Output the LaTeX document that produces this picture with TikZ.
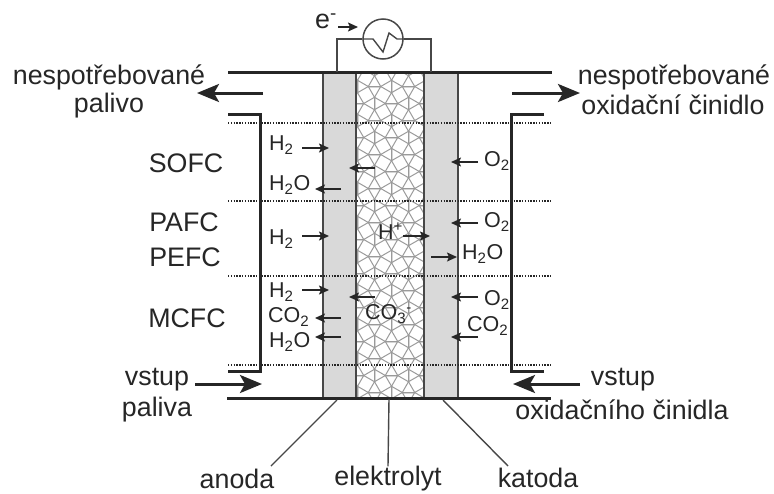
\documentclass[tikz,border=0pt]{standalone}
\usepackage{fontspec}
\setmainfont{Liberation Sans}
\usepackage{tikz}
\usetikzlibrary{calc,arrows.meta}
\definecolor{ink}{HTML}{262626}
\definecolor{layer}{HTML}{D9D9D9}
\definecolor{mesh}{HTML}{9A9A9A}
\tikzset{big/.style={inner sep=0pt,text=ink,font=\fontsize{26.8}{30}\selectfont},gas/.style={inner sep=0pt,anchor=west,text=ink,font=\fontsize{21.5}{24}\selectfont}}
\tikzset{wall/.style={line width=3pt,ink},layerbox/.style={fill=layer,draw=ink!85,line width=1.5pt},thin wire/.style={line width=1.4pt,ink!85}}
\tikzset{flow/.style={line width=3pt,ink,-{Stealth[length=22pt,width=18pt,inset=5pt]}},gasflow/.style={line width=1.5pt,ink,-{Stealth[length=10pt,width=9pt,inset=2pt]}}}
\tikzset{zone/.style={line width=1.2pt,ink,dash pattern=on 1.4pt off 1.4pt}}
\begin{document}
\begin{tikzpicture}[x=1pt,y=-1pt]
  \useasboundingbox (0,0) rectangle (774,493);
  % electrolyte
  \begin{scope}
    \clip (356,72) rectangle (424,398);
    \foreach \i in {-1,...,4} \foreach \j in {-1,...,20} {
      \pgfmathsetmacro{\base}{ifthenelse(mod(\i+\j+2,2)==0,15,75)}
      \begin{scope}[shift={(366+\i*17,78+\j*17)}]
        \foreach \k in {0,90,180,270}
          \draw[mesh,line width=1pt] (\base+\k:8.8pt) -- (\base+\k+45:17pt) -- (\base+\k+90:8.8pt);
      \end{scope}
    }
  \end{scope}
  \draw[ink!85,line width=1.5pt] (356,72) rectangle (424,398);
  \draw[layerbox] (323,72) rectangle (356,398);
  \draw[layerbox] (424,72) rectangle (458,398);
  % zones
  \foreach \y in {123,201,276,365} \draw[zone] (228,\y) -- (551,\y);
  % plates
  \coordinate (tl) at (228,72);
  \coordinate (tr) at (552,72);
  \coordinate (bl) at (227,398);
  \coordinate (br) at (551,398);
  \draw[wall] (tl) -- (tr) (bl) -- (br);
  \coordinate (wl1) at (228,114);
  \coordinate (wl2) at (260,114);
  \coordinate (wl3) at (260,371);
  \coordinate (wl4) at (228,371);
  \coordinate (wr1) at (544,114);
  \coordinate (wr2) at (511,114);
  \coordinate (wr3) at (511,371);
  \coordinate (wr4) at (544,371);
  \draw[wall] (wl1) -- (wl2) -- (wl3) -- (wl4);
  \draw[wall] (wr1) -- (wr2) -- (wr3) -- (wr4);
  % load
  \node[circle,draw=ink!85,line width=1.5pt,minimum size=40pt,inner sep=0pt] (load) at (383,39) {};
  \coordinate (c1) at (337,72);
  \coordinate (c2) at (431,72);
  \draw[thin wire] (load.west) -| (c1) (load.east) -| (c2);
  \draw[thin wire] (load.west) -- (373,39) -- (383,52) -- (389,33) -- (397,39) -- (load.east);
  \node[big] (electron) at (326,21) {e\textsuperscript{-}};
  \coordinate (es) at (338,27);
  \coordinate (ee) at (358,27);
  \draw[gasflow] (es) -- (ee);
  % big arrows
  \foreach \name/\xa/\xb/\y in {ol/263/197/93,or/512/580/93,il/195/262/384,ir/580/513/384} {
    \coordinate (\name s) at (\xa,\y);
    \coordinate (\name e) at (\xb,\y);
    \draw[flow] (\name s) -- (\name e);
  }
  % small arrows
  \foreach \name/\xa/\xb/\y in {a/302/329/148,b/375/349/168,c/341/315/189,d/478/451/162,e/478/451/223,f/302/329/236,g/403/430/236,h/431/457/257,i/302/329/290,j/375/349/297,k/341/315/318,l/341/315/337,m/478/451/297,n/478/451/337} {
    \coordinate (\name s) at (\xa,\y);
    \coordinate (\name e) at (\xb,\y);
    \draw[gasflow] (\name s) -- (\name e);
  }
  % gases
  \node[gas] (h2a) at (269,145) {H\textsubscript{2}};
  \node[gas] (h2oa) at (269,185) {H\textsubscript{2}O};
  \node[gas] (h2b) at (269,239) {H\textsubscript{2}};
  \node[gas] (h2c) at (269,292) {H\textsubscript{2}};
  \node[gas] (co2a) at (268,317) {CO\textsubscript{2}};
  \node[gas] (h2oc) at (269,342) {H\textsubscript{2}O};
  \node[gas] (o2a) at (484,161) {O\textsubscript{2}};
  \node[gas] (o2b) at (484,222) {O\textsubscript{2}};
  \node[gas] (h2od) at (462,254) {H\textsubscript{2}O};
  \node[gas] (o2c) at (484,300) {O\textsubscript{2}};
  \node[gas] (co2b) at (467,326) {CO\textsubscript{2}};
  \node[gas] (hplus) at (378,231) {H\textsuperscript{+}};
  \node[gas] (co3) at (365,314) {CO\textsubscript{3}\textsuperscript{-}};
  % labels
  \node[big] (sofc) at (186,163) {SOFC};
  \node[big] (pafc) at (184,222) {PAFC};
  \node[big] (pefc) at (185,257) {PEFC};
  \node[big] (mcfc) at (187,318) {MCFC};
  \node[big] (ol1) at (109,77) {nespotřebované};
  \node[big] (ol2) at (109,106) {palivo};
  \node[big] (or1) at (674,77) {nespotřebované};
  \node[big] (or2) at (673,105) {oxidační činidlo};
  \node[big] (il1) at (157,380) {vstup};
  \node[big] (il2) at (157,410) {paliva};
  \node[big] (ir1) at (623,380) {vstup};
  \node[big] (ir2) at (622,410) {oxidačního činidla};
  \node[big] (anoda) at (237,479) {anoda};
  \node[big] (elektrolyt) at (388,479) {elektrolyt};
  \node[big] (katoda) at (538,478) {katoda};
  % leaders
  \coordinate (la) at (337,400);
  \coordinate (lb) at (389,399);
  \coordinate (lc) at (443,400);
  \draw[thin wire] (la) -- (271,466);
  \draw[thin wire] (lb) -- (elektrolyt.north);
  \draw[thin wire] (lc) -- (508,466);
\end{tikzpicture}
\end{document}
